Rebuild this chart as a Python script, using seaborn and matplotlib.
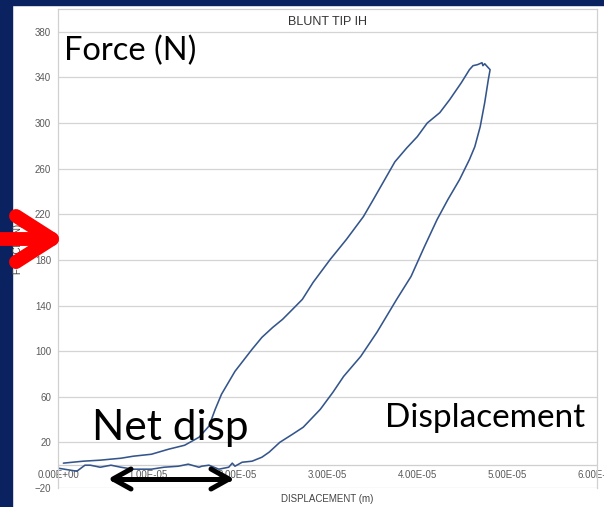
import numpy as np
import pandas as pd
import matplotlib
matplotlib.use('Agg')
import matplotlib.pyplot as plt
import seaborn as sns
from matplotlib.lines import Line2D
from matplotlib.patches import Rectangle
from matplotlib.ticker import FuncFormatter

# Force-displacement loop (displacement in units of 1e-5 m, force in N)
# loading branch -> peak -> unloading branch -> back along zero
disp_1e5 = [0.06, 0.28, 0.47, 0.59, 0.70, 0.84, 1.04, 1.23, 1.41, 1.57,
            1.68, 1.75, 1.82, 1.97, 2.16, 2.27, 2.39, 2.50, 2.61, 2.72,
            2.84, 3.03, 3.21, 3.40, 3.51, 3.65, 3.75, 3.88, 4.00, 4.11,
            4.25, 4.36, 4.49, 4.58, 4.62, 4.67, 4.72, 4.73, 4.75, 4.79,
            4.81,
            4.79, 4.75, 4.70, 4.64, 4.58, 4.47, 4.34, 4.22, 4.08, 3.93,
            3.77, 3.55, 3.37, 3.18, 3.06, 2.92, 2.73, 2.61, 2.47, 2.35,
            2.27, 2.16, 2.05, 1.97, 1.94, 1.90,
            1.79, 1.68, 1.60, 1.57, 1.45, 1.34, 1.18, 1.04, 0.84, 0.70,
            0.59, 0.47, 0.36, 0.30, 0.21, 0.14, 0.00]
force_n = [1.8, 3.5, 4.4, 5.3, 6.1, 7.9, 9.6, 14.0, 17.5, 24.5,
           34.2, 49.0, 62.2, 82.3, 101.6, 112.1, 120.8, 127.9, 136.6, 145.4,
           160.3, 180.4, 197.9, 218.0, 232.9, 252.2, 266.0, 278.0, 288.1, 300.0,
           309.1, 320.5, 335.4, 346.8, 350.3, 351.2, 352.9, 350.3, 352.0, 348.5,
           346.8,
           338.0, 317.9, 296.9, 279.3, 268.0, 250.4, 232.9, 215.4, 191.8, 165.5,
           145.4, 116.5, 95.4, 77.9, 63.9, 49.0, 33.3, 27.1, 20.1, 11.4,
           7.0, 3.5, 2.6, -0.9, 1.8, -1.8,
           -3.5, 0.0, -0.9, -1.8, 0.9, -0.9, -1.8, -3.5, -3.5, -1.8,
           0.0, -1.8, 0.0, 0.0, -5.3, -4.4, -2.6]

y_ticks = [-20, 20, 60, 100, 140, 180, 220, 260, 300, 340, 380]
x_ticks = [0, 1e-5, 2e-5, 3e-5, 4e-5, 5e-5, 6e-5]

df = pd.DataFrame({'disp': np.array(disp_1e5) * 1e-5, 'force': force_n})

W, H = 604, 507
sns.set_theme(style='white')
plt.rcParams['font.family'] = ['Liberation Sans', 'DejaVu Sans']

fig = plt.figure(figsize=(W / 100, H / 100), dpi=100)
fig.patch.set_facecolor('white')

# slide background strips
navy = '#0b2260'
fig.add_artist(Rectangle((0, 0), 12 / W, 1, transform=fig.transFigure, color=navy, zorder=0))
fig.add_artist(Rectangle((0, 1 - 5 / H), 1, 5 / H, transform=fig.transFigure, color=navy, zorder=0))

ax = fig.add_axes([58 / W, 1 - 488 / H, (597 - 58) / W, (488 - 9) / H])
ax.set_facecolor('white')

sns.lineplot(data=df, x='disp', y='force', sort=False, estimator=None,
             color='#34558b', lw=1.15, ax=ax)

ax.set_xlim(0, 6e-5)
ax.set_ylim(-20, 400)
ax.set_yticks(y_ticks)
ax.set_xticks(x_ticks)
ax.xaxis.set_major_formatter(FuncFormatter(lambda v, p: f'{v:.2E}'))
ax.grid(axis='y', color='#d4d4d4', lw=0.9)
ax.grid(axis='x', visible=False)
ax.axhline(0, color='#cfcfcf', lw=0.9, zorder=0)

for s in ['left', 'top', 'right']:
    ax.spines[s].set_color('#d0d0d0')
    ax.spines[s].set_linewidth(0.9)
ax.spines['bottom'].set_position(('data', 0))
ax.spines['bottom'].set_visible(False)

ax.tick_params(axis='y', labelsize=7, colors='#5a5a5a', length=3, width=0.7, pad=2)
ax.tick_params(axis='x', labelsize=7, colors='#5a5a5a', length=0, pad=3.5)
for lab in ax.get_yticklabels():
    lab.set_color('#5a5a5a')

ax.set_xlabel('DISPLACEMENT (m)', fontsize=7, color='#444444')
ax.xaxis.set_label_coords(0.5, -0.022)
ax.xaxis.label.set_va('center')
ax.set_ylabel('FORCE (N)', fontsize=7, color='#444444')
ax.yaxis.set_label_coords(-40 / 539, 0.5)
ax.yaxis.label.set_va('center')
ax.text(0.5, 0.973, 'BLUNT TIP IH', transform=ax.transAxes, ha='center', va='center',
        fontsize=9, color='#333333')

# slide overlays
def fp(x, y):
    return x / W, 1 - y / H

over = ['Lato', 'DejaVu Sans']
fig.text(*fp(64, 60), 'Force (N)', fontsize=23.5, family=over, color='black', va='baseline')
fig.text(*fp(92, 440), 'Net disp', fontsize=30.5, family=over, color='black', va='baseline')
fig.text(*fp(385, 427), 'Displacement', fontsize=24, family=over, color='black', va='baseline')


def arrow(tail, tip, back, half, lw, color, double=False):
    kw = dict(color=color, lw=lw, solid_capstyle='round', solid_joinstyle='round',
              transform=fig.transFigure, zorder=10)
    (x0, y0), (x1, y1) = fp(*tail), fp(*tip)
    fig.add_artist(Line2D([x0, x1], [y0, y1], **kw))
    heads = [(tip, 1)] + ([(tail, -1)] if double else [])
    for (hx, hy), d in heads:
        xs = [hx - d * back, hx, hx - d * back]
        ys = [hy - half, hy, hy + half]
        pts = [fp(a, b) for a, b in zip(xs, ys)]
        fig.add_artist(Line2D([p[0] for p in pts], [p[1] for p in pts], **kw))


arrow((-10, 239), (52, 239), 36, 23, 10, '#ff0000')
arrow((113, 479), (229, 479), 18, 10, 3.6, 'black', double=True)

fig.savefig('out.png', dpi=100, facecolor='white')
